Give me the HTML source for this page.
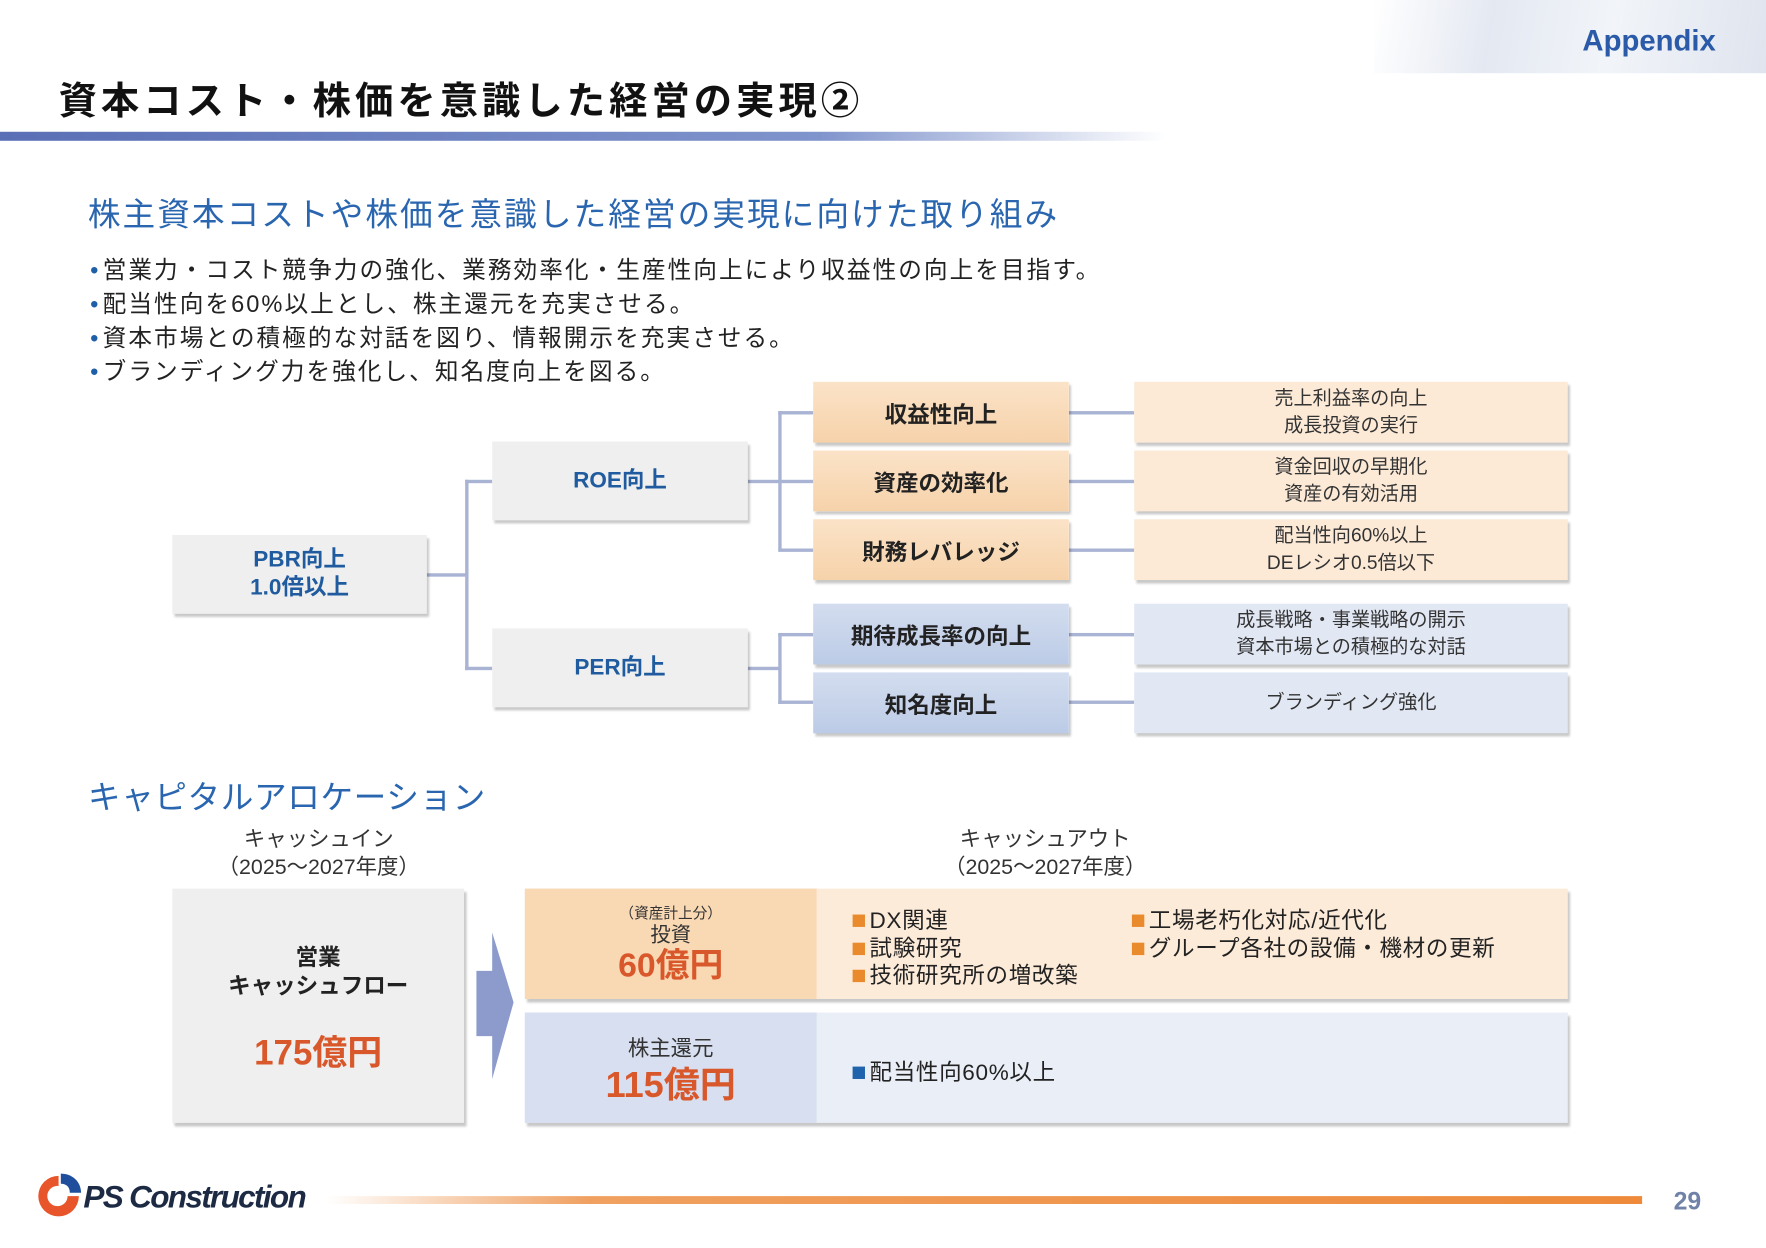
<!DOCTYPE html>
<html><head><meta charset="utf-8"><style>
*{margin:0;padding:0;box-sizing:border-box}
html,body{width:1766px;height:1248px;overflow:hidden;background:#fff}
#w{position:absolute;left:0;top:0;width:1568px;height:1108px;transform:scale(1.12628);transform-origin:0 0;font-family:"Liberation Sans","Noto Sans CJK JP",sans-serif;color:#222}
.a{position:absolute}
.box{position:absolute;display:flex;align-items:center;justify-content:center;text-align:center;box-shadow:2px 3px 2px rgba(0,0,0,.22)}
.g{background:#efefef;color:#1f5b9e;font-weight:bold;font-size:20px;line-height:25px}
.o{background:linear-gradient(#fbe3c8,#f6d2aa);font-weight:bold;font-size:20px}
.b{background:linear-gradient(#d3ddef,#bccbe6);font-weight:bold;font-size:20px}
.ol{background:#fcead7;font-size:17px;line-height:24px;color:#333}
.bl{background:#e1e7f3;font-size:17px;line-height:24px;color:#333}
.ln{position:absolute;background:#a9b3d3}
.bul{position:absolute;left:80px;font-size:21px;color:#222;letter-spacing:1.8px}
.bul:before{content:"•";color:#1f5fa8;margin-right:2px}
.it{position:absolute;font-size:20px;color:#222;letter-spacing:.6px}
.it:before{content:"";display:inline-block;width:11px;height:11px;background:#e98a2c;margin-right:4px;vertical-align:1px}
.it.bu:before{background:#1f63ad}
</style></head><body><div id="w">
<div class="a" style="left:1220px;top:0;width:348px;height:65px;background:linear-gradient(100deg,rgba(255,255,255,1) 0%,rgba(225,230,240,.9) 30%,rgba(240,243,248,.9) 60%,#dfe4ee 100%)"></div>
<div class="a" style="left:1405px;top:21px;font-size:26px;font-weight:bold;color:#2a5aa8">Appendix</div>
<div class="a" style="left:52px;top:62px;font-size:34px;font-weight:bold;color:#111;letter-spacing:3.6px">資本コスト・株価を意識した経営の実現②</div>
<div class="a" style="left:0;top:117px;width:1035px;height:8px;background:linear-gradient(90deg,#5a6fb5,#7f93cc 70%,rgba(200,210,235,0))"></div>
<div class="a" style="left:78px;top:167px;font-size:29px;color:#2a66b0;letter-spacing:1.8px">株主資本コストや株価を意識した経営の実現に向けた取り組み</div>
<div class="bul" style="top:224px">営業力・コスト競争力の強化、業務効率化・生産性向上により収益性の向上を目指す。</div>
<div class="bul" style="top:254px">配当性向を60%以上とし、株主還元を充実させる。</div>
<div class="bul" style="top:284px">資本市場との積極的な対話を図り、情報開示を充実させる。</div>
<div class="bul" style="top:314px">ブランディング力を強化し、知名度向上を図る。</div>

<div class="ln" style="left:379px;top:509px;width:36px;height:3px"></div>
<div class="ln" style="left:413px;top:426px;width:3px;height:169px"></div>
<div class="ln" style="left:413px;top:426px;width:24px;height:3px"></div>
<div class="ln" style="left:413px;top:592px;width:24px;height:3px"></div>
<div class="ln" style="left:664px;top:426px;width:58px;height:3px"></div>
<div class="ln" style="left:691px;top:365px;width:3px;height:124px"></div>
<div class="ln" style="left:691px;top:365px;width:31px;height:3px"></div>
<div class="ln" style="left:691px;top:487px;width:31px;height:3px"></div>
<div class="ln" style="left:664px;top:592px;width:28px;height:3px"></div>
<div class="ln" style="left:691px;top:562px;width:3px;height:63px"></div>
<div class="ln" style="left:691px;top:562px;width:31px;height:3px"></div>
<div class="ln" style="left:691px;top:622px;width:31px;height:3px"></div>
<div class="ln" style="left:949px;top:365px;width:58px;height:3px"></div>
<div class="ln" style="left:949px;top:426px;width:58px;height:3px"></div>
<div class="ln" style="left:949px;top:487px;width:58px;height:3px"></div>
<div class="ln" style="left:949px;top:562px;width:58px;height:3px"></div>
<div class="ln" style="left:949px;top:622px;width:58px;height:3px"></div>

<div class="box g" style="left:153px;top:475px;width:226px;height:70px">PBR向上<br>1.0倍以上</div>
<div class="box g" style="left:437px;top:392px;width:227px;height:70px">ROE向上</div>
<div class="box g" style="left:437px;top:558px;width:227px;height:70px">PER向上</div>
<div class="box o" style="left:722px;top:339px;width:227px;height:54px">収益性向上</div>
<div class="box o" style="left:722px;top:400px;width:227px;height:54px">資産の効率化</div>
<div class="box o" style="left:722px;top:461px;width:227px;height:54px">財務レバレッジ</div>
<div class="box b" style="left:722px;top:536px;width:227px;height:54px">期待成長率の向上</div>
<div class="box b" style="left:722px;top:597px;width:227px;height:54px">知名度向上</div>
<div class="box ol" style="left:1007px;top:339px;width:385px;height:54px">売上利益率の向上<br>成長投資の実行</div>
<div class="box ol" style="left:1007px;top:400px;width:385px;height:54px">資金回収の早期化<br>資産の有効活用</div>
<div class="box ol" style="left:1007px;top:461px;width:385px;height:54px">配当性向60%以上<br>DEレシオ0.5倍以下</div>
<div class="box bl" style="left:1007px;top:536px;width:385px;height:54px">成長戦略・事業戦略の開示<br>資本市場との積極的な対話</div>
<div class="box bl" style="left:1007px;top:597px;width:385px;height:54px">ブランディング強化</div>

<div class="a" style="left:78px;top:685px;font-size:29px;color:#2a66b0;letter-spacing:.5px">キャピタルアロケーション</div>
<div class="a" style="left:153px;top:733px;width:260px;text-align:center;font-size:19px;line-height:25px;color:#333">キャッシュイン<br>（2025～2027年度）</div>
<div class="a" style="left:728px;top:733px;width:400px;text-align:center;font-size:19px;line-height:25px;color:#333">キャッシュアウト<br>（2025～2027年度）</div>

<div class="box" style="left:153px;top:789px;width:259px;height:208px;background:#efefef;flex-direction:column;justify-content:flex-start">
<div style="margin-top:50px;font-size:20px;font-weight:bold;line-height:25px">営業<br>キャッシュフロー</div>
<div style="margin-top:20px;font-size:31px;font-weight:bold;color:#d9582b">175億円</div></div>
<svg class="a" style="left:420px;top:825px" width="40" height="136"><polygon points="3,37 17,37 17,3 36,65 17,133 17,95 3,95" fill="#8c9bcb"/></svg>

<div class="box" style="left:466px;top:789px;width:926px;height:98px;background:#fdebd9"></div>
<div class="a" style="left:466px;top:789px;width:259px;height:98px;background:#f9d8b4;text-align:center">
<div style="margin-top:11px;font-size:13px;color:#333">（資産計上分）</div>
<div style="font-size:18px;line-height:22px;color:#333">投資</div>
<div style="font-size:30px;font-weight:bold;color:#d9582b;line-height:34px">60億円</div></div>
<div class="it" style="left:757px;top:801px">DX関連</div>
<div class="it" style="left:757px;top:826px">試験研究</div>
<div class="it" style="left:757px;top:850px">技術研究所の増改築</div>
<div class="it" style="left:1005px;top:801px">工場老朽化対応/近代化</div>
<div class="it" style="left:1005px;top:826px">グループ各社の設備・機材の更新</div>

<div class="box" style="left:466px;top:899px;width:926px;height:98px;background:#e9eef7"></div>
<div class="a" style="left:466px;top:899px;width:259px;height:98px;background:#d7dff0;text-align:center">
<div style="margin-top:17px;font-size:19px;color:#333">株主還元</div>
<div style="font-size:32px;font-weight:bold;color:#d9582b;line-height:40px">115億円</div></div>
<div class="it bu" style="left:757px;top:936px">配当性向60%以上</div>

<svg class="a" style="left:30px;top:1040px" width="44" height="44"><path d="M22 4 A18 18 0 1 0 40 22 L30 22 A9 9 0 1 1 22 13 Z" fill="#e8552a"/><path d="M24 2 C34 2 42 9 42 19 L32 19 C32 14 29 11 24 11Z" fill="#1f4f9c"/></svg>
<div class="a" style="left:74px;top:1047px;font-size:28px;font-weight:bold;font-style:italic;color:#1d2a44;letter-spacing:-1.5px">PS Construction</div>
<div class="a" style="left:290px;top:1062px;width:1168px;height:7px;background:linear-gradient(90deg,rgba(240,140,60,0),#f0a060 20%,#ee8a3a)"></div>
<div class="a" style="left:1486px;top:1054px;font-size:22px;font-weight:bold;color:#7082a8">29</div>
</div></body></html>
